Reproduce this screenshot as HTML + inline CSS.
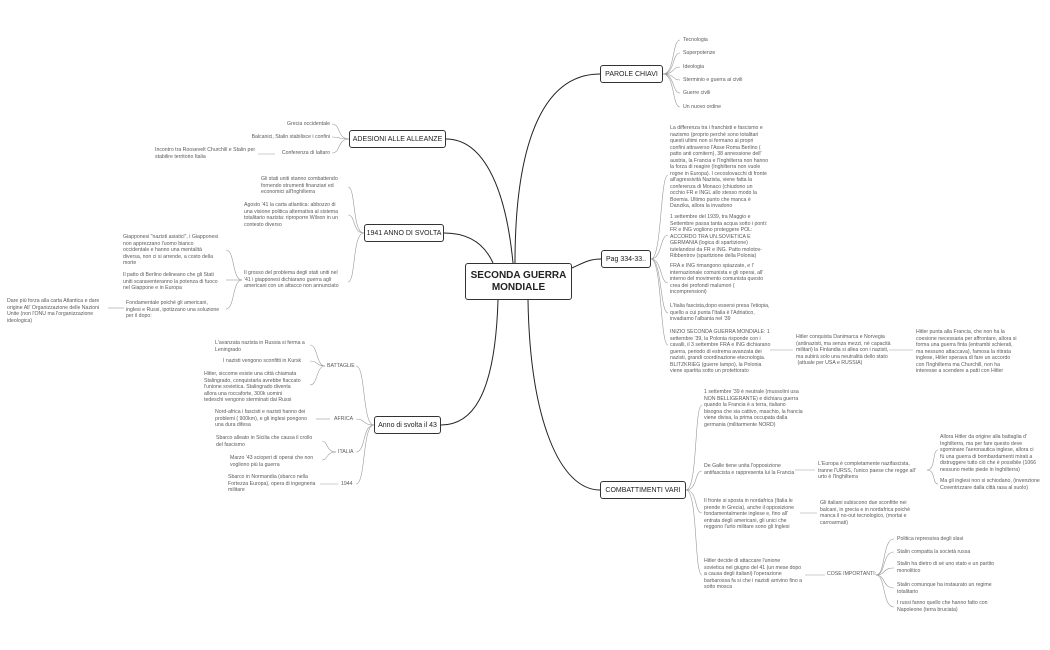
<!DOCTYPE html>
<html><head><meta charset="utf-8"><style>
body{margin:0;width:1050px;height:650px;background:#fff;position:relative;overflow:hidden;font-family:"Liberation Sans",sans-serif;}
.t{position:absolute;font-size:5.2px;line-height:6.5px;color:#5a5a5a;white-space:nowrap;}
.r{text-align:right;}
.b{position:absolute;border:1.3px solid #333;border-radius:3px;background:#fff;font-size:7px;color:#222;display:flex;align-items:center;justify-content:center;box-sizing:border-box;}
svg{position:absolute;left:0;top:0;}
</style></head><body>
<svg width="1050" height="650" fill="none">
<g stroke="#222" stroke-width="1">
<path d="M515 263 C515 150 540 74 600 74"/>
<path d="M572 268 C585 262 590 259 601 259"/>
<path d="M513 263 C505 180 480 139 446 139"/>
<path d="M493 263 C485 245 470 233 444 233"/>
<path d="M498 300 C495 400 470 425 441 425"/>
<path d="M528 300 C530 420 560 490 600 490"/>
</g>
<g stroke="#999" stroke-width="0.6">
<path d="M663 74 C675 74 672 40 680 40"/><path d="M663 74 C675 74 672 53 680 53"/><path d="M663 74 C675 74 672 67 680 67"/><path d="M663 74 C675 74 672 80 680 80"/><path d="M663 74 C675 74 672 93 680 93"/><path d="M663 74 C675 74 672 107 680 107"/>
<path d="M651 259 C662 259 660 175 668 175"/><path d="M651 259 C662 259 660 235 668 235"/><path d="M651 259 C662 259 660 283 668 283"/><path d="M651 259 C662 259 660 313 668 313"/><path d="M651 259 C662 259 660 345 668 345"/>
<path d="M770 350 H793"/><path d="M889 350 H913"/>
<path d="M686 490 C698 490 694 405 702 405"/><path d="M686 490 C698 490 694 471 702 471"/><path d="M686 490 C698 490 694 513 702 513"/><path d="M686 490 C698 490 694 575 702 575"/>
<path d="M795 470 H815"/><path d="M927 470 C936 470 932 450 938 450"/><path d="M927 470 C936 470 932 484 938 484"/>
<path d="M800 513 H817"/><path d="M805 575 H825"/>
<path d="M876 575 C886 575 882 539 894 539"/><path d="M876 575 C886 575 882 552 894 552"/><path d="M876 575 C886 575 882 568 894 568"/><path d="M876 575 C886 575 882 588 894 588"/><path d="M876 575 C886 575 882 607 894 607"/>
<path d="M349 139 C337 139 341 124 332 124"/><path d="M349 139 C337 139 341 137 332 137"/><path d="M349 139 C337 139 341 153 332 153"/><path d="M258 154 H275"/>
<path d="M364 233 C352 233 356 187 348 187"/><path d="M364 233 C352 233 356 215 348 215"/><path d="M364 233 C352 233 356 282 348 282"/>
<path d="M242 280 C232 280 235 250 226 250"/><path d="M242 280 C232 280 235 280 226 280"/><path d="M242 280 C232 280 235 309 226 309"/><path d="M108 308 H124"/>
<path d="M374 425 C362 425 366 366 356 366"/><path d="M374 425 C362 425 366 419 356 419"/><path d="M374 425 C362 425 366 452 356 452"/><path d="M374 425 C362 425 366 484 356 484"/>
<path d="M325 366 C316 366 318 345 310 345"/><path d="M325 366 C316 366 318 361 310 361"/><path d="M325 366 C316 366 318 385 310 385"/>
<path d="M316 419 H330"/><path d="M336 452 C326 452 328 441 322 441"/><path d="M336 452 C326 452 328 460 322 460"/><path d="M320 484 H338"/>
</g></svg>
<div class="b" style="left:465px;top:263px;width:107px;height:37px;font-size:10px;font-weight:bold;text-align:center;line-height:12px;">SECONDA GUERRA<br>MONDIALE</div>
<div class="b" style="left:600px;top:65px;width:63px;height:18px;">PAROLE CHIAVI</div>
<div class="b" style="left:601px;top:250px;width:50px;height:18px;">Pag 334-33..</div>
<div class="b" style="left:349px;top:130px;width:97px;height:18px;">ADESIONI ALLE ALLEANZE</div>
<div class="b" style="left:364px;top:224px;width:80px;height:18px;">1941 ANNO DI SVOLTA</div>
<div class="b" style="left:374px;top:416px;width:67px;height:18px;">Anno di svolta il 43</div>
<div class="b" style="left:600px;top:481px;width:86px;height:18px;">COMBATTIMENTI VARI</div>

<div class="t" style="left:683px;top:37px">Tecnologia</div>
<div class="t" style="left:683px;top:50px">Superpotenze</div>
<div class="t" style="left:683px;top:64px">Ideologia</div>
<div class="t" style="left:683px;top:77px">Sterminio e guerra ai civili</div>
<div class="t" style="left:683px;top:90px">Guerre civili</div>
<div class="t" style="left:683px;top:104px">Un nuovo ordine</div>

<div class="t" style="left:670px;top:125px">La differenza tra i franchisti e fascismo e<br>nazismo (proprio perché sono totalitari<br>questi ultimi non si fermano ai propri<br>confini attraverso l'Asse Roma Berlino (<br>patto anti comitern), 38 annessione dell'<br>austria, la Francia e l'Inghilterra non hanno<br>la forza di reagire (Inghilterra non vuole<br>rogne in Europa). I cecoslovacchi di fronte<br>all'agressività Nazista, viene fatta la<br>conferenza di Monaco (chiudono un<br>occhio FR e INGL allo stesso modo la<br>Boemia. Ultimo punto che manca è<br>Danzika, allora la invadono</div>
<div class="t" style="left:670px;top:214px">1 settembre del 1939, tra Maggio e<br>Settembre passa tanta acqua sotto i ponti:<br>FR e ING vogliono proteggere POL:<br>ACCORDO TRA UN.SOVIETICA E<br>GERMANIA (logica di spartizione)<br>tutelandosi da FR e ING. Patto molotov-<br>Ribbentrov (spartizione della Polonia)</div>
<div class="t" style="left:670px;top:263px">FRA e ING rimangono spiazzate, e l'<br>internazionale comunista e gli operai, all'<br>interno del movimento comunista questo<br>crea dei profondi malumori (<br>incomprensioni)</div>
<div class="t" style="left:670px;top:303px">L'Italia fascista,dopo essersi presa l'etiopia,<br>quello a cui punta l'Italia è l'Adriatico,<br>invadiamo l'albania nel '39</div>
<div class="t" style="left:670px;top:329px">INIZIO SECONDA GUERRA MONDIALE: 1<br>settembre '39, la Polonia risponde con i<br>cavalli, il 3 settembre FRA e ING dichiarano<br>guerra, periodo di estrema avanzata dei<br>nazisti, grandi coordinazione etecnologia.<br>BLITZKRIEG (guerre lampo), la Polonia<br>viene spartita sotto un protettorato</div>
<div class="t" style="left:796px;top:334px">Hitler conquista Danimarca e Norvegia<br>(antinazisti, ma senza mezzi, né capacità<br>militari) la Finlandia si allea con i nazisti,<br>ma subirà solo una neutralità dello stato<br>&nbsp;(attuale per USA e RUSSIA)</div>
<div class="t" style="left:916px;top:329px">Hitler punta alla Francia, che non ha la<br>coesione necessaria per affrontare, allora si<br>forma una guerra finta (entrambi schierati,<br>ma nessuno attaccava), famosa la ritirata<br>inglese, Hitler sperava di fare un accordo<br>con l'Inghilterra ma Churchill, non ha<br>interesse a scendere a patti con Hitler</div>

<div class="t" style="left:704px;top:389px">1 settembre '39 è neutrale (mussolini usa<br>NON BELLIGERANTE) e dichiara guerra<br>quando la Francia è a terra, italiano<br>bisogna che sia cattivo, maschio, la francia<br>viene divisa, la prima occupata dalla<br>germania (militarmente NORD)</div>
<div class="t" style="left:704px;top:463px">De Galle tiene unita l'opposizione<br>antifascista e rappresenta lui la Francia</div>
<div class="t" style="left:818px;top:461px">L'Europa è completamente nazifascista,<br>tranne l'URSS, l'unico paese che regge all'<br>urto è l'Inghilterra</div>
<div class="t" style="left:940px;top:434px">Allora Hitler da origine alla battaglia d'<br>Inghilterra, ma per fare questo deve<br>sgominare l'aeronautica inglese, allora ci<br>fù una guerra di bombardamenti mirati a<br>distruggere tutto ciò che è possibile (1066<br>nessuno mette piede in Inghilterra)</div>
<div class="t" style="left:940px;top:478px">Ma gli inglesi non si schiodano, (invenzione<br>Coventrizzare dalla città rasa al suolo)</div>
<div class="t" style="left:704px;top:498px">Il fronte si sposta in nordafrica (Italia le<br>prende in Grecia), anche il opposizione<br>fondamentalmente inglese e, fino all'<br>entrata degli americani, gli unici che<br>reggono l'urto militare sono gli Inglesi</div>
<div class="t" style="left:820px;top:500px">Gli italiani subiscono due sconfitte nei<br>balcani, in grecia e in nordafrica poiché<br>manca il no-out tecnologico, (mortai e<br>carroarmati)</div>
<div class="t" style="left:704px;top:558px">Hitler decide di attaccare l'unione<br>sovietica nel giugno del 41 (un mese dopo<br>a causa degli italiani) l'operazione<br>barbarossa fa si che i nazisti arrivino fino a<br>sotto mosca</div>
<div class="t" style="left:827px;top:571px">COSE IMPORTANTI:</div>
<div class="t" style="left:897px;top:536px">Politica repressiva degli slavi</div>
<div class="t" style="left:897px;top:549px">Stalin compatta la società russa</div>
<div class="t" style="left:897px;top:561px">Stalin ha dietro di sé uno stato e un partito<br>monolitico</div>
<div class="t" style="left:897px;top:582px">Stalin comunque ha instaurato un regime<br>totalitario</div>
<div class="t" style="left:897px;top:600px">I russi fanno quello che hanno fatto con<br>Napoleone (terra bruciata)</div>

<div class="t r" style="left:230px;top:121px;width:100px">Grecia occidentale</div>
<div class="t r" style="left:200px;top:134px;width:130px">Balcanici, Stalin stabilisce i confini</div>
<div class="t r" style="left:230px;top:150px;width:100px">Conferenza di Ialtaro</div>
<div class="t" style="left:155px;top:147px">Incontro tra Roosevelt Churchill e Stalin per<br>stabilire territorio Italia</div>
<div class="t" style="left:261px;top:176px">Gli stati uniti stanno combattendo<br>fornendo strumenti finanziari ed<br>economici all'Inghilterra</div>
<div class="t" style="left:244px;top:202px">Agosto '41 la carta atlantica: abbozzo di<br>una visione politica alternativa al sistema<br>totalitario nazista: riproporre Wilson in un<br>contesto diverso</div>
<div class="t" style="left:244px;top:270px">Il grosso del problema degli stati uniti nel<br>'41 i giapponesi dichiarano guerra agli<br>americani con un attacco non annunciato</div>
<div class="t" style="left:123px;top:234px">Giapponesi "nazisti asiatici", i Giapponesi<br>non apprezzano l'uomo bianco<br>occidentale e hanno una mentalità<br>diversa, non ci si arrende, a costo della<br>morte</div>
<div class="t" style="left:123px;top:272px">Il patto di Berlino delineano che gli Stati<br>uniti scaraventeranno la potenza di fuoco<br>nel Giappone e in Europa</div>
<div class="t" style="left:126px;top:300px">Fondamentale poiché gli americani,<br>inglesi e Russi, ipotizzano una soluzione<br>per il dopo:</div>
<div class="t" style="left:7px;top:298px">Dare più forza alla carta Atlantica e dare<br>origine All' Organizzazione delle Nazioni<br>Unite (non l'ONU ma l'organizzazione<br>ideologica)</div>

<div class="t" style="left:215px;top:340px">L'avanzata nazista in Russia si ferma a<br>Leningrado</div>
<div class="t" style="left:223px;top:358px">I nazisti vengono sconfitti in Kursk</div>
<div class="t" style="left:204px;top:371px">Hitler, siccome esiste una città chiamata<br>Stalingrado, conquistarla avrebbe fiaccato<br>l'unione sovietica. Stalingrado diventa<br>allora una roccaforte, 300k uomini<br>tedeschi vengono sterminati dai Russi</div>
<div class="t" style="left:327px;top:363px">BATTAGLIE</div>
<div class="t" style="left:215px;top:409px">Nord-africa i fascisti e nazisti hanno dei<br>problemi ( 900km), e gli inglesi pongono<br>una dura difesa</div>
<div class="t" style="left:334px;top:416px">AFRICA</div>
<div class="t" style="left:216px;top:435px">Sbarco alleato in Sicilia che causa il crollo<br>del fascismo</div>
<div class="t" style="left:230px;top:455px">Marzo '43 scioperi di operai che non<br>vogliono più la guerra</div>
<div class="t" style="left:338px;top:449px">ITALIA</div>
<div class="t" style="left:228px;top:474px">Sbarco in Normandia (sbarco nella<br>Fortezza Europa), opera di ingegneria<br>militare</div>
<div class="t" style="left:341px;top:481px">1944</div>
</body></html>
